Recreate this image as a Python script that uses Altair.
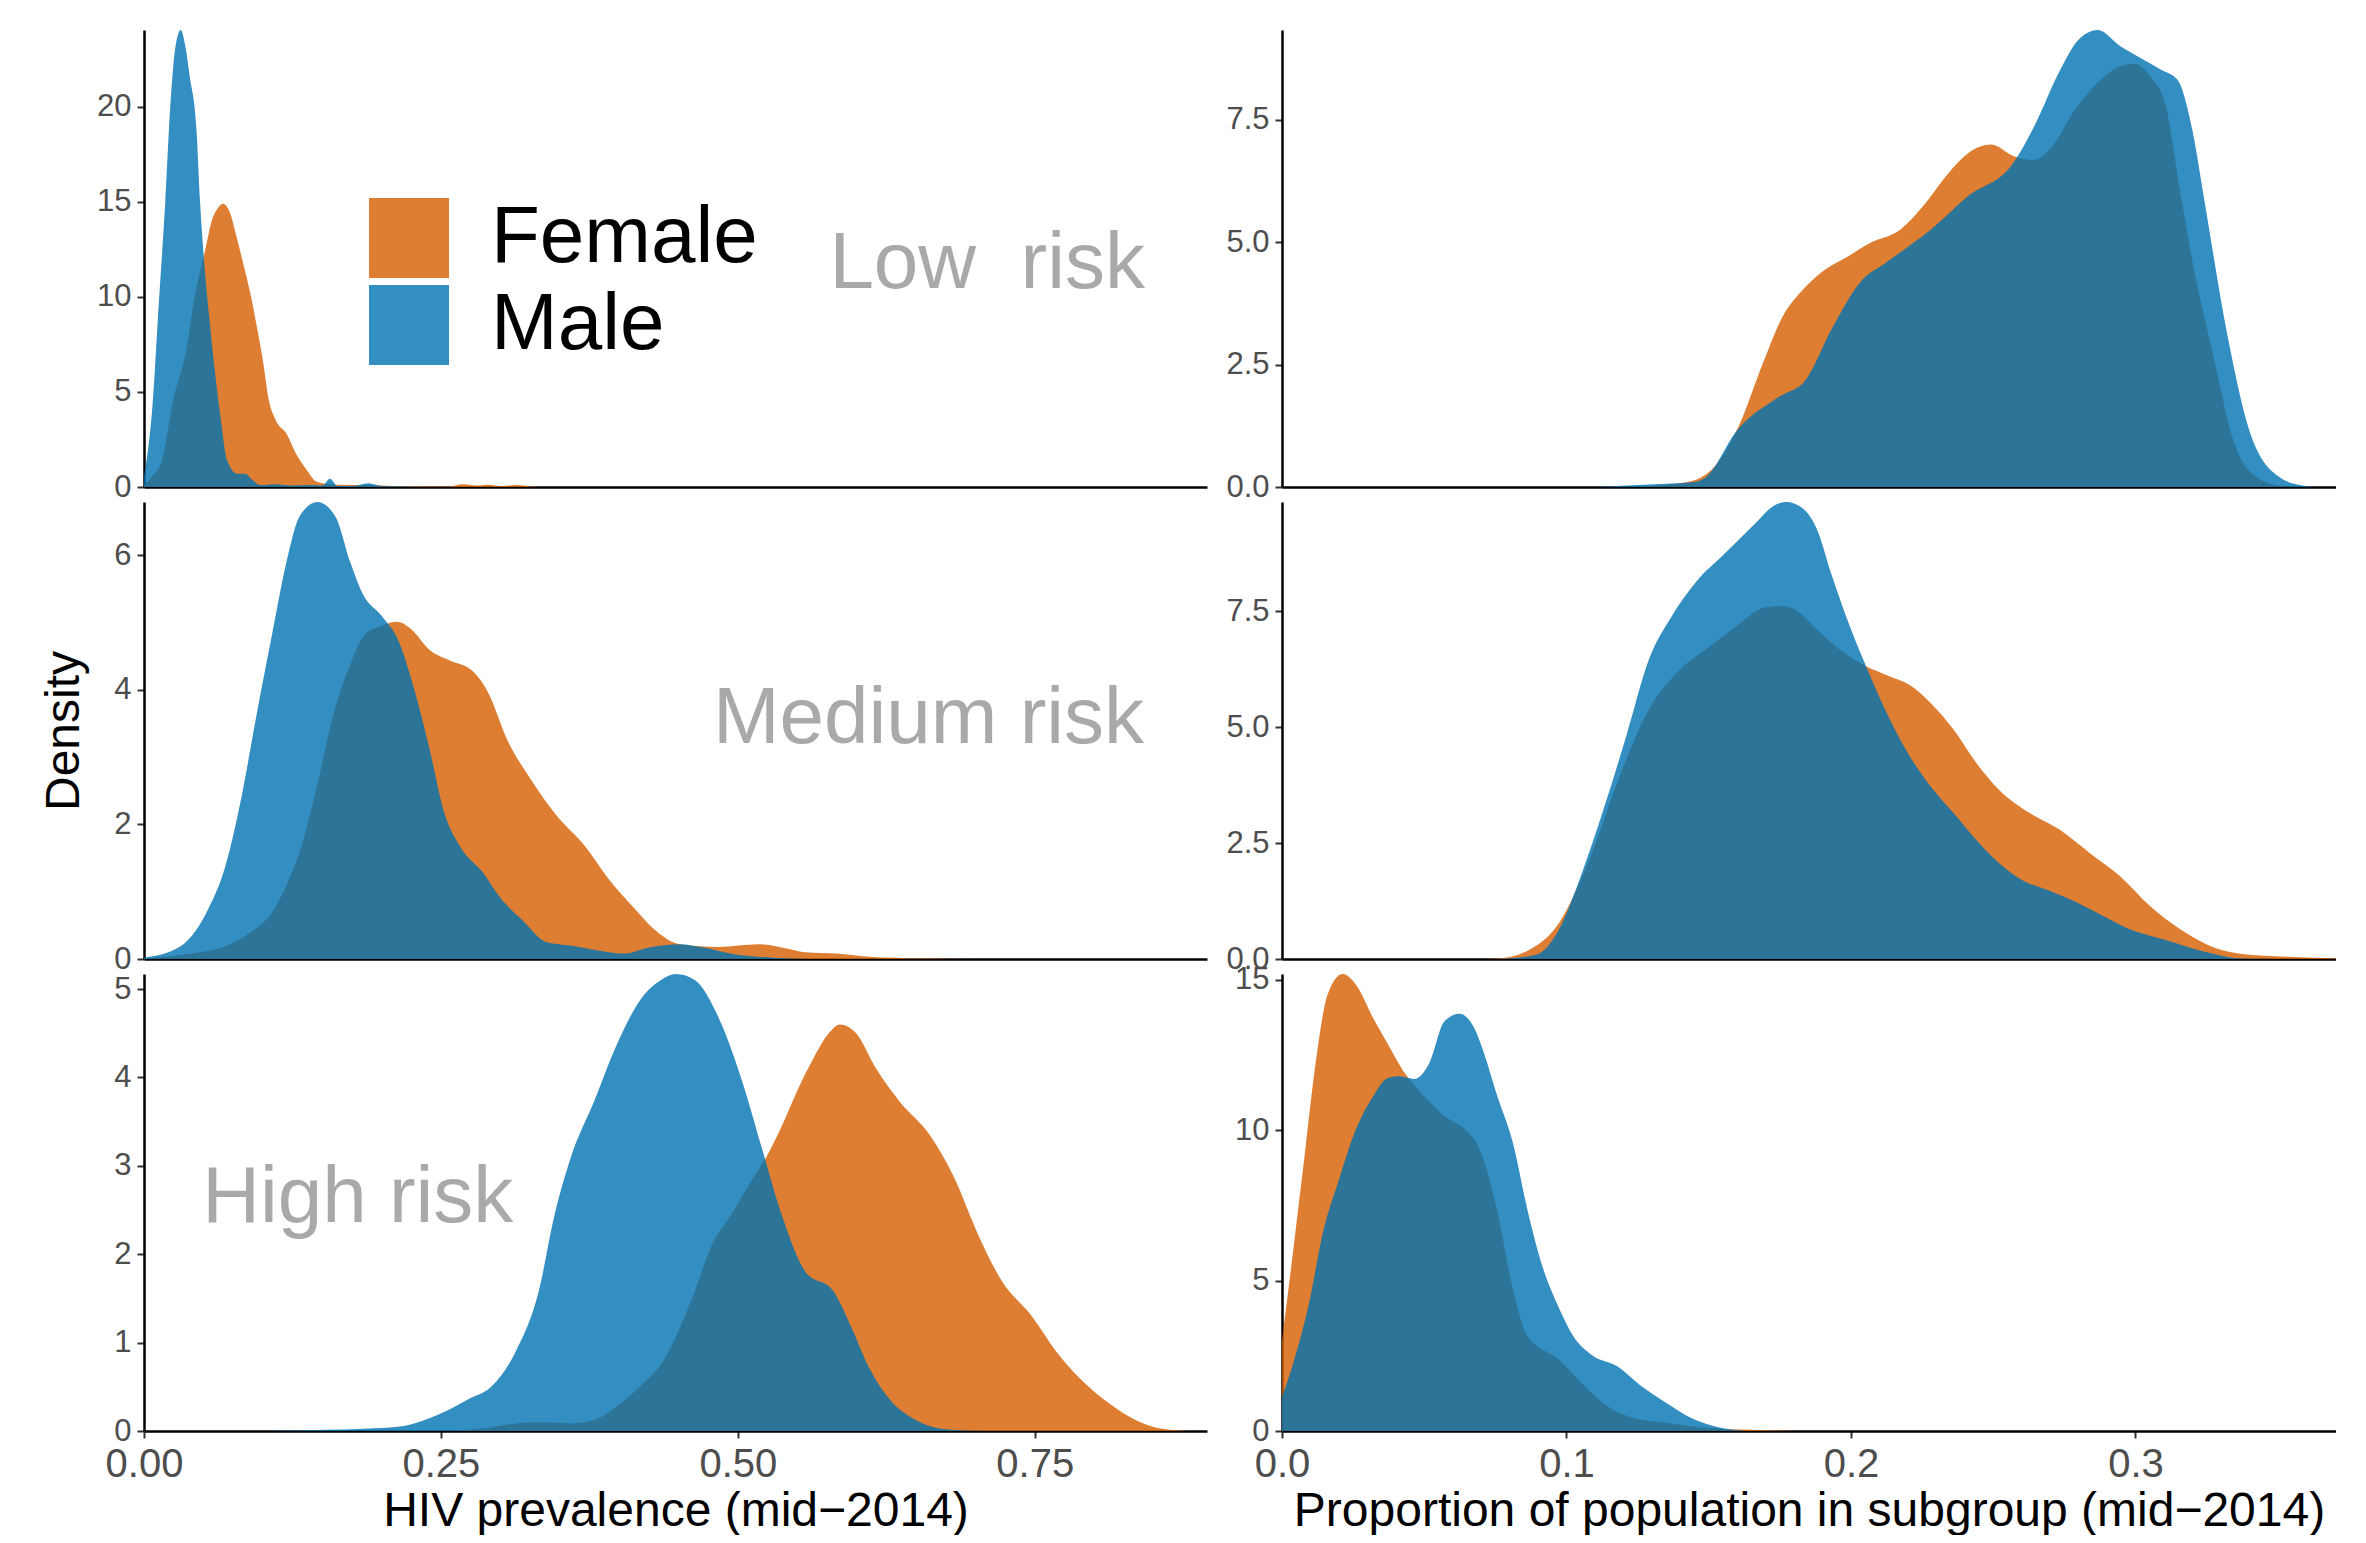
import altair as alt
import pandas as pd

FEMALE = "#D55E00"
MALE = "#0072B2"
FONT = "Liberation Sans"

sexes = ["Female", "Male"]
risk_labels = ["Low \u00a0risk", "Medium risk", "High risk"]
x_titles = ["HIV prevalence (mid\u22122014)", "Proportion of population in subgroup (mid\u22122014)"]
y_title = "Density"

# ---------- HIV prevalence, low risk ----------
l1_f_x = [0, 0.0074, 0.0151, 0.0247, 0.0355, 0.042, 0.052, 0.057, 0.0614, 0.0666, 0.072, 0.0774, 0.083,
          0.0895, 0.096, 0.100, 0.105, 0.111, 0.120, 0.128, 0.137, 0.146, 0.163, 0.19, 0.21, 0.237, 0.255,
          0.269, 0.28, 0.29, 0.3, 0.314, 0.325, 0.335]
l1_f_y = [0.1, 0.6, 1.4, 4.6, 7.2, 9.8, 12.6, 14.0, 14.6, 14.9, 14.5, 13.3, 11.9,
          10.2, 8.1, 6.7, 4.6, 3.5, 2.8, 1.75, 0.9, 0.26, 0.12, 0.1, 0.05, 0.05, 0.03,
          0.15, 0.08, 0.12, 0.05, 0.1, 0.03, 0.0]
l1_m_x = [0, 0.0074, 0.0117, 0.018, 0.0225, 0.0268, 0.031, 0.0345, 0.0385, 0.0441, 0.0471, 0.0506, 0.055,
          0.0593, 0.0644, 0.070, 0.0787, 0.0852, 0.0917, 0.0982, 0.11, 0.125, 0.14, 0.15, 0.1566, 0.163,
          0.175, 0.189, 0.2, 0.22, 0.25]
l1_m_y = [0.5, 4.5, 8.9, 15.1, 20.4, 23.3, 24.05, 23.3, 21.6, 18.9, 15.1, 11.9, 8.9,
          6.3, 3.7, 1.4, 0.7, 0.7, 0.35, 0.1, 0.15, 0.08, 0.1, 0.08, 0.44, 0.05,
          0.05, 0.2, 0.05, 0.02, 0.0]

# ---------- HIV prevalence, medium risk ----------
l2_f_x = [0, 0.04, 0.07, 0.09, 0.108, 0.12, 0.133, 0.146, 0.159, 0.172, 0.185, 0.2, 0.213, 0.225, 0.24,
          0.257, 0.276, 0.29, 0.306, 0.326, 0.346, 0.372, 0.392, 0.412, 0.431, 0.451, 0.484, 0.517, 0.537,
          0.557, 0.583, 0.61, 0.656, 0.7]
l2_f_y = [0.01, 0.08, 0.2, 0.4, 0.7, 1.1, 1.7, 2.6, 3.6, 4.3, 4.8, 4.95, 5.01, 4.9, 4.6,
          4.44, 4.29, 3.95, 3.25, 2.66, 2.16, 1.66, 1.17, 0.77, 0.42, 0.22, 0.18, 0.22, 0.17,
          0.1, 0.08, 0.035, 0.01, 0.0]
l2_m_x = [0, 0.029, 0.052, 0.069, 0.082, 0.095, 0.108, 0.121, 0.131, 0.146, 0.161, 0.174, 0.184, 0.2005,
          0.214, 0.227, 0.240, 0.253, 0.2665, 0.286, 0.2995, 0.319, 0.339, 0.359, 0.385, 0.405, 0.425,
          0.451, 0.471, 0.497, 0.53, 0.57]
l2_m_y = [0.02, 0.17, 0.67, 1.41, 2.4, 3.65, 4.84, 5.98, 6.58, 6.79, 6.58, 5.88, 5.43, 5.09,
          4.74, 4.04, 3.15, 2.16, 1.66, 1.27, 0.92, 0.57, 0.25, 0.2, 0.12, 0.08, 0.17,
          0.22, 0.17, 0.07, 0.02, 0.0]

# ---------- HIV prevalence, high risk ----------
l3_f_x = [0.26, 0.286, 0.31, 0.33, 0.345, 0.36, 0.38, 0.4, 0.418, 0.438, 0.451, 0.464, 0.478, 0.494, 0.51,
          0.524, 0.537, 0.55, 0.563, 0.5765, 0.586, 0.5996, 0.616, 0.636, 0.662, 0.682, 0.702, 0.7216,
          0.748, 0.768, 0.7876, 0.814, 0.834, 0.8536, 0.867, 0.88]
l3_f_y = [0, 0.03, 0.08, 0.1, 0.095, 0.085, 0.13, 0.3, 0.51, 0.81, 1.16, 1.59, 2.1, 2.44, 2.8,
          3.1, 3.45, 3.85, 4.2, 4.5, 4.6, 4.5, 4.11, 3.73, 3.34, 2.87, 2.23, 1.71,
          1.29, 0.9, 0.6, 0.3, 0.13, 0.035, 0.01, 0.0]
l3_m_x = [0.1, 0.141, 0.194, 0.22, 0.247, 0.273, 0.293, 0.313, 0.3325, 0.3456, 0.359, 0.379, 0.398, 0.418,
          0.435, 0.448, 0.464, 0.484, 0.504, 0.52, 0.537, 0.557, 0.58, 0.596, 0.61, 0.629, 0.649, 0.675,
          0.708]
l3_m_y = [0, 0.01, 0.03, 0.06, 0.18, 0.36, 0.51, 0.9, 1.59, 2.44, 3.08, 3.73, 4.37, 4.88,
          5.1, 5.17, 5.1, 4.67, 3.94, 3.21, 2.44, 1.8, 1.59, 1.16, 0.73, 0.34, 0.13, 0.02,
          0.0]

# ---------- Proportion of population, low risk ----------
r1_f_x = [0.12, 0.135, 0.145, 0.153, 0.161, 0.169, 0.176, 0.183, 0.1907, 0.1987, 0.2067, 0.2173, 0.2253,
          0.2333, 0.2413, 0.2493, 0.2573, 0.264, 0.2707, 0.2787, 0.2867, 0.2947, 0.2995, 0.3053, 0.3107,
          0.316, 0.3213, 0.3253, 0.3293, 0.3333, 0.3373, 0.3427, 0.3507, 0.3587]
r1_f_y = [0.0, 0.05, 0.14, 0.48, 1.3, 2.52, 3.48, 4.02, 4.43, 4.7, 4.98, 5.25, 5.73,
          6.34, 6.82, 6.99, 6.75, 6.67, 6.95, 7.7, 8.25, 8.59, 8.64, 8.38, 7.77,
          5.93, 4.23, 3.2, 2.18, 1.16, 0.55, 0.2, 0.03, 0.0]
r1_m_x = [0.11, 0.129, 0.145, 0.149, 0.16, 0.1747, 0.184, 0.193, 0.204, 0.212, 0.228, 0.241, 0.257, 0.265,
          0.273, 0.28, 0.2867, 0.2947, 0.3027, 0.309, 0.3147, 0.32, 0.324, 0.332, 0.34, 0.3507, 0.3587,
          0.364]
r1_m_y = [0.0, 0.05, 0.1, 0.2, 1.16, 1.84, 2.18, 3.2, 4.23, 4.57, 5.25, 5.93, 6.61, 7.43,
          8.45, 9.13, 9.33, 9.0, 8.73, 8.52, 8.32, 7.29, 5.93, 3.2, 1.16, 0.2, 0.03,
          0.0]

# ---------- Proportion of population, medium risk ----------
r2_f_x = [0.07, 0.076, 0.0867, 0.0973, 0.108, 0.1187, 0.129, 0.14, 0.1507, 0.1613, 0.1693, 0.1747, 0.18,
          0.188, 0.196, 0.2053, 0.2133, 0.2213, 0.228, 0.236, 0.244, 0.252, 0.2627, 0.2733, 0.284, 0.2947,
          0.3053, 0.316, 0.3267, 0.3373, 0.3533, 0.3705]
r2_f_y = [0.0, 0.01, 0.19, 0.77, 2.14, 3.94, 5.38, 6.24, 6.75, 7.25, 7.57, 7.61, 7.54,
          7.1, 6.67, 6.31, 6.1, 5.88, 5.52, 4.95, 4.23, 3.65, 3.15, 2.79, 2.28, 1.78,
          1.13, 0.63, 0.27, 0.11, 0.05, 0.015]
r2_m_x = [0.076, 0.0893, 0.0973, 0.105, 0.113, 0.121, 0.129, 0.137, 0.1453, 0.156, 0.1667, 0.172, 0.1773,
          0.1827, 0.188, 0.1933, 0.1987, 0.2053, 0.212, 0.22, 0.228, 0.236, 0.244, 0.252, 0.26, 0.2707,
          0.2787, 0.2867, 0.2973, 0.3107, 0.324, 0.3373, 0.348]
r2_m_y = [0.0, 0.09, 0.63, 1.78, 3.22, 4.8, 6.46, 7.39, 8.11, 8.76, 9.41, 9.73, 9.85,
          9.73, 9.27, 8.26, 7.32, 6.31, 5.38, 4.44, 3.72, 3.15, 2.57, 2.07, 1.71, 1.45,
          1.24, 0.99, 0.66, 0.41, 0.16, 0.01, 0.0]

# ---------- Proportion of population, high risk ----------
r3_f_x = [0, 0.004, 0.008, 0.012, 0.016, 0.0213, 0.0266, 0.0319, 0.0372, 0.0425, 0.0491, 0.0571, 0.065,
          0.069, 0.0757, 0.081, 0.0863, 0.097, 0.1075, 0.1155, 0.1234, 0.134, 0.15, 0.158, 0.171, 0.182]
r3_f_y = [3.0, 6.05, 9.2, 12.36, 14.5, 15.19, 14.75, 13.75, 12.86, 11.98, 11.22, 10.47, 9.96,
          9.46, 7.31, 4.79, 3.15, 2.4, 1.39, 0.76, 0.44, 0.28, 0.1, 0.06, 0.025, 0.0]
r3_m_x = [0, 0.004, 0.0093, 0.0146, 0.0199, 0.0252, 0.0319, 0.0372, 0.0412, 0.0465, 0.0518, 0.0571, 0.0624,
          0.0677, 0.0705, 0.0758, 0.0811, 0.0864, 0.0918, 0.097, 0.1024, 0.109, 0.118, 0.126, 0.134, 0.145,
          0.153, 0.163]
r3_m_y = [1.13, 2.27, 4.16, 6.68, 8.32, 9.84, 11.1, 11.73, 11.79, 11.7, 12.23, 13.62, 13.87,
          13.37, 12.7, 11.1, 9.6, 7.3, 5.4, 4.16, 3.15, 2.52, 2.14, 1.51, 1.0, 0.38,
          0.13, 0.0]

# axis limits / ticks
left_x_max = 0.895
right_x_max = 0.3705
left_x_ticks = [0, 0.25, 0.5, 0.75]
right_x_ticks = [0, 0.1, 0.2, 0.3]
y_max = {"l1": 24.05, "l2": 6.79, "l3": 5.17, "r1": 9.33, "r2": 9.85, "r3": 15.19}
y_ticks = {"l1": [0, 5, 10, 15, 20], "l2": [0, 2, 4, 6], "l3": [0, 1, 2, 3, 4, 5],
           "r1": [0, 2.5, 5, 7.5], "r2": [0, 2.5, 5, 7.5], "r3": [0, 5, 10, 15]}
y_fmt = {"l1": "d", "l2": "d", "l3": "d", "r1": ".1f", "r2": ".1f", "r3": "d"}

# risk label anchors (data coordinates of each left panel)
notes = {
    "l1": dict(x=0.8428, y=10.47, text=risk_labels[0], align="right"),
    "l2": dict(x=0.842, y=3.209, text=risk_labels[1], align="right"),
    "l3": dict(x=0.049, y=2.364, text=risk_labels[2], align="left"),
}

LEFT_W, RIGHT_W, H = 1063, 1054, 457

cscale = alt.Scale(domain=sexes, range=[FEMALE, MALE])


def panel(key, fx, fy, mx, my, width, xmax, bottom, xticks, xfmt, xtitle, ytitle=False, legend=False):
    xscale = alt.Scale(domain=[0, xmax], nice=False, zero=False)
    yscale = alt.Scale(domain=[0, y_max[key]], nice=False)
    if bottom:
        xaxis = alt.Axis(values=xticks, format=xfmt, title=xtitle, titleY=94,
                         titleBaseline="alphabetic")
    else:
        xaxis = alt.Axis(ticks=False, labels=False, title=None)
    if ytitle:
        yaxis = alt.Axis(values=y_ticks[key], format=y_fmt[key], title=y_title, titleX=-66,
                         titleY=H / 2, titleAngle=270, titleBaseline="alphabetic", titleAlign="center")
    else:
        yaxis = alt.Axis(values=y_ticks[key], format=y_fmt[key], title=None)
    if legend:
        leg = alt.Legend(orient="none", legendX=225, legendY=168, title=None, symbolType="square",
                         symbolSize=6400, symbolStrokeWidth=0, symbolOpacity=0.8, labelFontSize=80,
                         labelFont=FONT, labelColor="black", labelOffset=42, labelLimit=0,
                         rowPadding=7, padding=0)
    else:
        leg = None

    def area(xs, ys, sex):
        df = pd.DataFrame({"x": xs, "d": ys, "sex": sex})
        return alt.Chart(df).mark_area(opacity=0.8, interpolate="monotone", clip=True).encode(
            x=alt.X("x:Q", scale=xscale, axis=xaxis),
            y=alt.Y("d:Q", scale=yscale, axis=yaxis, stack=False),
            color=alt.Color("sex:N", scale=cscale, legend=leg),
        )

    layers = [area(fx, fy, "Female"), area(mx, my, "Male")]
    if key in notes:
        n = notes[key]
        tdf = pd.DataFrame({"x": [n["x"]], "y": [n["y"]], "label": [n["text"]]})
        layers.append(
            alt.Chart(tdf).mark_text(align=n["align"], baseline="alphabetic", fontSize=80,
                                     font=FONT, color="#A9A9A9").encode(
                x="x:Q", y="y:Q", text="label:N")
        )
    return alt.layer(*layers).properties(width=width, height=H)


charts = [
    panel("l1", l1_f_x, l1_f_y, l1_m_x, l1_m_y, LEFT_W, left_x_max, False, left_x_ticks, ".2f", None,
          legend=True),
    panel("r1", r1_f_x, r1_f_y, r1_m_x, r1_m_y, RIGHT_W, right_x_max, False, right_x_ticks, ".1f", None),
    panel("l2", l2_f_x, l2_f_y, l2_m_x, l2_m_y, LEFT_W, left_x_max, False, left_x_ticks, ".2f", None,
          ytitle=True),
    panel("r2", r2_f_x, r2_f_y, r2_m_x, r2_m_y, RIGHT_W, right_x_max, False, right_x_ticks, ".1f", None),
    panel("l3", l3_f_x, l3_f_y, l3_m_x, l3_m_y, LEFT_W, left_x_max, True, left_x_ticks, ".2f",
          x_titles[0]),
    panel("r3", r3_f_x, r3_f_y, r3_m_x, r3_m_y, RIGHT_W, right_x_max, True, right_x_ticks, ".1f",
          x_titles[1]),
]

chart = alt.concat(*charts, columns=2, spacing={"row": 15, "column": 75}, bounds="flush").resolve_scale(
    x="independent", y="independent", color="independent"
).resolve_legend(color="independent").properties(
    padding={"left": 32, "top": 22, "right": 0, "bottom": 0}
).configure_view(stroke=None).configure_axis(
    grid=False,
    domainColor="black",
    domainWidth=2.5,
    tickColor="#333333",
    tickWidth=2,
    tickSize=7,
    labelColor="#4D4D4D",
    labelFont=FONT,
    labelPadding=6,
    labelFlush=False,
    labelOverlap=False,
    titleFont=FONT,
    titleFontSize=48,
    titleFontWeight="normal",
    titleColor="black",
).configure_axisX(labelFontSize=40).configure_axisY(labelFontSize=31)

chart.save("out.html", embed_options={"renderer": "svg", "actions": False})
